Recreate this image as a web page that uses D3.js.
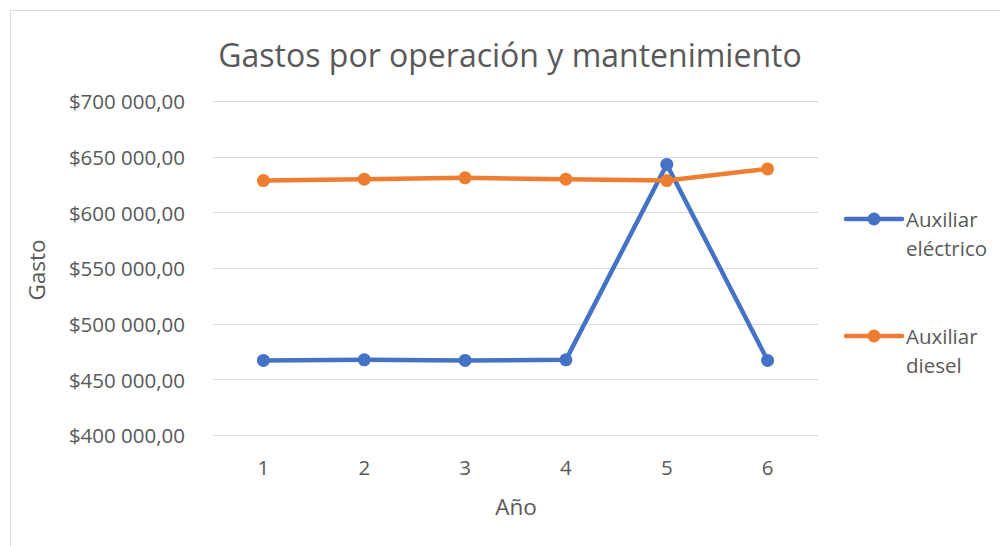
<!DOCTYPE html>
<html lang="es">
<head>
  <meta charset="UTF-8">
  <title>Gastos por operación y mantenimiento</title>
  <style>
body { margin: 0; background: #fff; }
#chart text { font-family: "Open Sans", "Noto Sans", sans-serif; fill: #595959; }
  </style>
</head>
<body>
  <div id="chart"></div>
  <script src="https://cdnjs.cloudflare.com/ajax/libs/d3/7.8.5/d3.min.js"></script>
  <script>
// data
const years = [1, 2, 3, 4, 5, 6];
const electrico = [467000, 467500, 467000, 467500, 643000, 467000];
const diesel = [628500, 629800, 631000, 629800, 628500, 639000];
const yTicks = [400000, 450000, 500000, 550000, 600000, 650000, 700000];
const seriesNames = ["Auxiliar eléctrico", "Auxiliar diesel"];
const seriesColors = ["#4472C4", "#ED7D31"];

const width = 1000, height = 546;
const plot = { left: 213, right: 818, top: 101, bottom: 435 };

const locale = d3.formatLocale({ decimal: ",", thousands: "\u00a0", grouping: [3], currency: ["$", ""] });
const fmt = locale.format("$,.2f");

const svg = d3.select("#chart").append("svg")
  .attr("width", width)
  .attr("height", height);

// chart area border
svg.append("rect")
  .attr("x", 10.5).attr("y", 10.5)
  .attr("width", 1000).attr("height", 600)
  .attr("fill", "none")
  .attr("stroke", "#d9d9d9");

const x = d3.scaleBand()
  .domain(years)
  .range([plot.left, plot.right]);

const y = d3.scaleLinear()
  .domain([400000, 700000])
  .range([plot.bottom, plot.top]);

// gridlines
svg.append("g")
  .selectAll("line")
  .data(yTicks)
  .join("line")
  .attr("x1", plot.left).attr("x2", plot.right)
  .attr("y1", d => Math.round(y(d)) + 0.5)
  .attr("y2", d => Math.round(y(d)) + 0.5)
  .attr("stroke", "#d9d9d9")
  .attr("stroke-width", 1);

// y axis labels
const yAxis = svg.append("g")
  .attr("transform", `translate(${plot.left},0)`)
  .call(d3.axisLeft(y).tickValues(yTicks).tickFormat(fmt).tickSize(0).tickPadding(28));
yAxis.select(".domain").remove();
yAxis.selectAll("text").style("font-size", "20.5px").attr("dy", "0.38em").attr("fill", "#595959");

// x axis labels
const xAxis = svg.append("g")
  .attr("transform", `translate(0,${plot.bottom})`)
  .call(d3.axisBottom(x).tickSize(0).tickPadding(25));
xAxis.select(".domain").remove();
xAxis.selectAll("text").style("font-size", "20.5px").attr("fill", "#595959");

// title and axis titles
svg.append("text")
  .attr("x", 510).attr("y", 67)
  .attr("text-anchor", "middle")
  .style("font-size", "32px")
  .text("Gastos por operación y mantenimiento");

svg.append("text")
  .attr("transform", "translate(45,270) rotate(-90)")
  .attr("text-anchor", "middle")
  .style("font-size", "22.5px")
  .text("Gasto");

svg.append("text")
  .attr("x", 516).attr("y", 515)
  .attr("text-anchor", "middle")
  .style("font-size", "22.5px")
  .text("Año");

// lines
const line = d3.line()
  .x((d, i) => x(years[i]) + x.bandwidth() / 2)
  .y(d => y(d));

[electrico, diesel].forEach((values, s) => {
  const g = svg.append("g");
  g.append("path")
    .datum(values)
    .attr("fill", "none")
    .attr("stroke", seriesColors[s])
    .attr("stroke-width", 4.5)
    .attr("stroke-linejoin", "round")
    .attr("stroke-linecap", "round")
    .attr("d", line);
  g.selectAll("circle")
    .data(values)
    .join("circle")
    .attr("cx", (d, i) => x(years[i]) + x.bandwidth() / 2)
    .attr("cy", d => y(d))
    .attr("r", 6.5)
    .attr("fill", seriesColors[s]);
});

// legend
const legendY = [219, 336];
seriesNames.forEach((name, s) => {
  const g = svg.append("g").attr("transform", `translate(846,${legendY[s]})`);
  g.append("line")
    .attr("x1", 0).attr("x2", 56)
    .attr("stroke", seriesColors[s])
    .attr("stroke-width", 4.5)
    .attr("stroke-linecap", "round");
  g.append("circle")
    .attr("cx", 28).attr("r", 6.5)
    .attr("fill", seriesColors[s]);
  const words = name.split(" ");
  g.append("text")
    .attr("y", 8)
    .style("font-size", "20.5px")
    .selectAll("tspan")
    .data(words)
    .join("tspan")
    .attr("x", 60)
    .attr("dy", (d, i) => i === 0 ? 0 : 29)
    .text(d => d);
});
  </script>
</body>
</html>
